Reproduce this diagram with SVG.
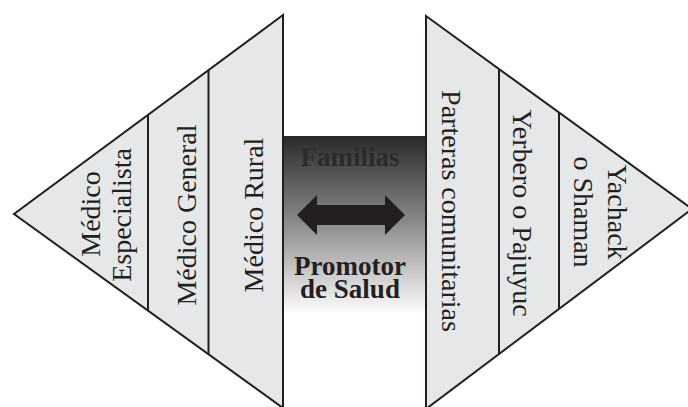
<svg xmlns="http://www.w3.org/2000/svg" width="688" height="407" viewBox="0 0 688 407">
<defs>
<linearGradient id="midgrad" x1="0" y1="0" x2="0" y2="1">
<stop offset="0" stop-color="#2a2a2a"/>
<stop offset="0.5" stop-color="#8c8c8c"/>
<stop offset="1" stop-color="#fbfbfb"/>
</linearGradient>
</defs>
<style>
.tri{fill:#e6e7e8;stroke:#231f20;stroke-width:2;stroke-linejoin:miter}
.div{stroke:#231f20;stroke-width:2;fill:none}
.lbl{font-family:"Liberation Serif","Times New Roman",serif;font-size:28px;fill:#231f20;text-anchor:middle}
.mid{font-family:"Liberation Serif","Times New Roman",serif;font-size:27px;font-weight:bold;text-anchor:middle}
</style>
<rect width="688" height="407" fill="#ffffff"/>
<g id="centro">
<rect x="283" y="136" width="143" height="176" fill="url(#midgrad)"/>
<text class="mid" x="350" y="166" fill="#2b2b2b">Familias</text>
<text class="mid" fill="#231f20"><tspan x="350" y="275">Promotor</tspan><tspan x="350" y="298">de Salud</tspan></text>
</g>
<g id="sistema-occidental">
<polygon class="tri" points="283,15 14,214 283,408"/>
<line class="div" x1="148" y1="115" x2="148" y2="311"/>
<line class="div" x1="208.5" y1="70" x2="208.5" y2="354"/>
<g id="medico-especialista">
<text class="lbl" transform="translate(100,214) rotate(-90)">Médico</text>
<text class="lbl" transform="translate(131,215) rotate(-90)">Especialista</text>
</g>
<g id="medico-general">
<text class="lbl" transform="translate(196,215) rotate(-90)">Médico General</text>
</g>
<g id="medico-rural">
<text class="lbl" transform="translate(263,215) rotate(-90)">Médico Rural</text>
</g>
</g>
<g id="sistema-tradicional">
<polygon class="tri" points="426,16 692,209 426,409"/>
<line class="div" x1="499" y1="69" x2="499" y2="354"/>
<line class="div" x1="559" y1="112.5" x2="559" y2="309"/>
<g id="parteras">
<text class="lbl" transform="translate(442,211) rotate(90)">Parteras comunitarias</text>
</g>
<g id="yerbero">
<text class="lbl" transform="translate(513,213) rotate(90)">Yerbero o Pajuyuc</text>
</g>
<g id="yachack">
<text class="lbl" transform="translate(608,212) rotate(90)">Yachack</text>
<text class="lbl" transform="translate(574,212) rotate(90)">o Shaman</text>
</g>
</g>
<g id="connectors">
<polygon fill="#231f20" points="297,215 317,195 317,205 385,205 385,195 405,215 385,235 385,225 317,225 317,235"/>
</g>
</svg>
